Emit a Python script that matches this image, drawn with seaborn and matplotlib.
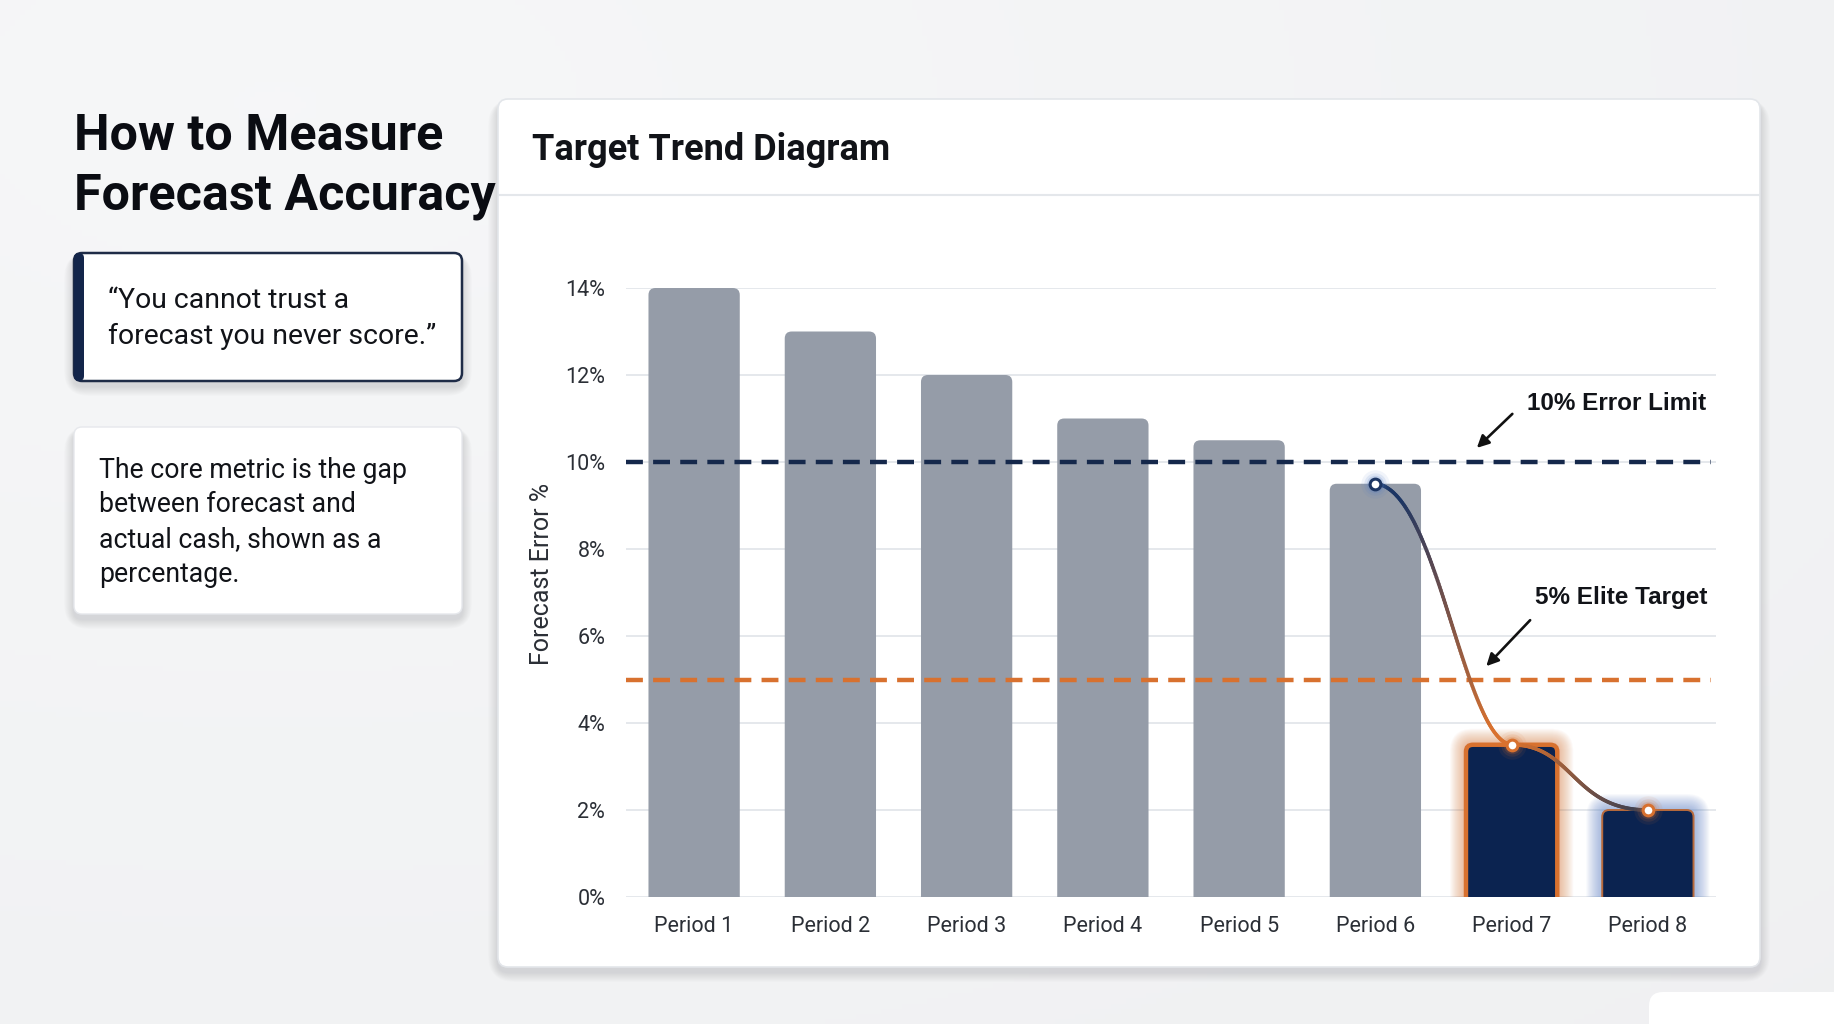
import numpy as np
import pandas as pd
import matplotlib
matplotlib.use("Agg")
import matplotlib.pyplot as plt
import seaborn as sns
from matplotlib.patches import FancyBboxPatch, Rectangle
from matplotlib.collections import LineCollection
from matplotlib.colors import to_rgb

# ---------------- data ----------------
periods = ["Period 1", "Period 2", "Period 3", "Period 4",
           "Period 5", "Period 6", "Period 7", "Period 8"]
errors = [14.0, 13.0, 12.0, 11.0, 10.5, 9.5, 3.5, 2.0]
status = ["Above", "Above", "Above", "Above", "Above", "Above", "Elite", "Elite"]
yticks = [0, 2, 4, 6, 8, 10, 12, 14]
error_limit = 10
elite_target = 5
trend_periods = ["Period 6", "Period 7", "Period 8"]

page_title = ["How to Measure", "Forecast Accuracy"]
quote_lines = ["\u201cYou cannot trust a", "forecast you never score.\u201d"]
body_lines = ["The core metric is the gap", "between forecast and",
              "actual cash, shown as a", "percentage."]
card_title = "Target Trend Diagram"
ylabel = "Forecast Error %"
limit_label = "10% Error Limit"
target_label = "5% Elite Target"

# ---------------- style ----------------
GRAY = "#959ca8"
NAVY = "#0b2350"
NAVY_LINE = "#15284b"
ORANGE = "#d8712f"
TEXT = "#111318"

sns.set_theme(style="white")
plt.rcParams["font.family"] = ["Roboto", "DejaVu Sans"]

W, H = 1834, 1024
fig = plt.figure(figsize=(W / 100, H / 100), dpi=100)
fig.patch.set_facecolor("#f3f4f6")

bg = fig.add_axes([0, 0, 1, 1], zorder=0)
bg.set_xlim(0, W)
bg.set_ylim(H, 0)
bg.axis("off")

# subtle background gradient
gy, gx = np.mgrid[0:1:200j, 0:1:360j]
grad = 0.965 - 0.02 * np.sqrt((gx - 0.15) ** 2 + (gy - 0.1) ** 2)
bg.imshow(np.dstack([grad, grad + 0.003, grad + 0.008]).clip(0, 1),
          extent=[0, W, H, 0], aspect="auto", zorder=0)


def rbox(x0, y0, x1, y1, r, fc, ec="none", lw=0, z=1, shadow=True, alpha=1.0):
    if shadow:
        for i in range(10):
            d = 2 + i * 1.6
            bg.add_patch(FancyBboxPatch((x0 - d * 0.6, y0 - d * 0.3 + 5), (x1 - x0) + d * 1.2,
                                        (y1 - y0) + d * 0.9,
                                        boxstyle=f"round,pad=0,rounding_size={r + d}",
                                        fc="#1c2333", ec="none", alpha=0.012, zorder=z - 0.5))
    bg.add_patch(FancyBboxPatch((x0, y0), x1 - x0, y1 - y0,
                                boxstyle=f"round,pad=0,rounding_size={r}",
                                fc=fc, ec=ec, lw=lw, zorder=z, alpha=alpha))


# main chart card
rbox(498, 99, 1760, 967, 10, "white", ec="#e3e6ea", lw=1.2, z=2)
bg.plot([499, 1759], [195, 195], color="#e4e7eb", lw=1.5, zorder=3)
bg.text(532, 160, card_title, fontsize=26, fontweight="bold", color=TEXT,
        va="baseline", ha="left", zorder=4)

# left title
bg.text(74, 150, page_title[0], fontsize=36.2, fontweight="bold", color="#0a0c12",
        va="baseline", ha="left", zorder=4)
bg.text(74, 209, page_title[1], fontsize=36.2, fontweight="bold", color="#0a0c12",
        va="baseline", ha="left", zorder=4)

# quote box
rbox(74, 253, 462, 381, 8, "white", ec="#1f2c47", lw=1.8, z=2)
bg.add_patch(FancyBboxPatch((74, 253), 10, 128, boxstyle="round,pad=0,rounding_size=5",
                            fc="#13254a", ec="none", zorder=3))
bg.text(108, 308, quote_lines[0], fontsize=20.4, color=TEXT, va="baseline", zorder=4)
bg.text(108, 344, quote_lines[1], fontsize=20.4, color=TEXT, va="baseline", zorder=4)

# body box
rbox(74, 427, 462, 614, 8, "white", ec="#e6e8ec", lw=1.0, z=2)
for i, line in enumerate(body_lines):
    bg.text(99, 478 + i * 34.5, line, fontsize=19.2, color=TEXT, va="baseline", zorder=4)

# bottom-right partial card
bg.add_patch(FancyBboxPatch((1649, 992), 220, 80, boxstyle="round,pad=0,rounding_size=14",
                            fc="white", ec="none", zorder=2))

# ---------------- chart ----------------
ax_l, ax_r, ax_b, ax_t = 626, 1716, 897, 288
ax = fig.add_axes([ax_l / W, (H - ax_b) / H, (ax_r - ax_l) / W, (ax_b - ax_t) / H], zorder=3)
ax.set_facecolor("none")

df = pd.DataFrame({"period": periods, "error": errors, "status": status})
sns.barplot(data=df, x="period", y="error", hue="status",
            palette={"Above": GRAY, "Elite": NAVY}, dodge=False, legend=False,
            width=0.67, saturation=1, ax=ax, zorder=3)

ax.set_xlim(-0.5, 7.5)
ax.set_ylim(0, 14)
px_x = (ax_r - ax_l) / 8.0
px_y = (ax_b - ax_t) / 14.0
asp = px_x / px_y
rx = 7 / px_x

bars = sorted([p for p in ax.patches if isinstance(p, Rectangle)], key=lambda p: p.get_x())
for i, p in enumerate(bars):
    x, w, h = p.get_x(), p.get_width(), p.get_height()
    fc = p.get_facecolor()
    p.set_visible(False)
    if i in (6, 7):
        gcol = ORANGE if i == 6 else "#5f85c9"
        galpha = 0.035 if i == 6 else 0.045
        for d in range(16, 0, -1):
            dx, dy = d / px_x, d / px_y
            ax.add_patch(FancyBboxPatch((x - dx, -1), w + 2 * dx, h + 1 + dy,
                                        boxstyle=f"round,pad=0,rounding_size={rx + dx}",
                                        mutation_aspect=asp, fc=gcol, ec="none",
                                        alpha=galpha, zorder=2.5))
    ec, lw = "none", 0
    if i == 6:
        ec, lw = ORANGE, 3.2
    elif i == 7:
        ec, lw = "#b86a3c", 1.4
    ax.add_patch(FancyBboxPatch((x, -1), w, h + 1,
                                boxstyle=f"round,pad=0,rounding_size={rx}",
                                mutation_aspect=asp, fc=fc, ec=ec, lw=lw, zorder=3))

# reference lines
ax.plot([-0.5, 7.46], [error_limit, error_limit], color=NAVY_LINE, lw=3.2,
        dashes=(3.8, 2.3), zorder=4)
ax.plot([-0.5, 7.46], [elite_target, elite_target], color=ORANGE, lw=3.2,
        dashes=(3.8, 2.3), zorder=4)

# smooth trend line over last periods
idx = [periods.index(p) for p in trend_periods]
vals = [errors[i] for i in idx]


def bez(p0, c1, c2, p1, n=120):
    t = np.linspace(0, 1, n)[:, None]
    return ((1 - t) ** 3 * np.array(p0) + 3 * (1 - t) ** 2 * t * np.array(c1)
            + 3 * (1 - t) * t ** 2 * np.array(c2) + t ** 3 * np.array(p1))


seg1 = bez((idx[0], vals[0]), (idx[0] + 0.45, vals[0] - 0.1),
           (idx[1] - 0.35, vals[1] + 0.1), (idx[1], vals[1]))
seg2 = bez((idx[1], vals[1]), (idx[1] + 0.45, vals[1]),
           (idx[2] - 0.55, vals[2]), (idx[2], vals[2]))
c_navy, c_or, c_dark = np.array(to_rgb("#1c3563")), np.array(to_rgb(ORANGE)), np.array(to_rgb("#3a3f52"))
for seg, (ca, cb) in [(seg1, (c_navy, c_or)), (seg2, (c_or, c_dark))]:
    pts = seg.reshape(-1, 1, 2)
    segs = np.concatenate([pts[:-1], pts[1:]], axis=1)
    tt = np.linspace(0, 1, len(segs))
    if ca is c_navy:
        tt = np.clip((tt - 0.15) / 0.7, 0, 1)
    cols = [tuple(ca * (1 - s) + cb * s) for s in tt]
    ax.add_collection(LineCollection(segs, colors=cols, lw=2.6, zorder=5, capstyle="round"))

edge_cols = ["#1c3563", ORANGE, ORANGE]
for k, (xi, v) in enumerate(zip(idx, vals)):
    glow = "#4f79c4" if k == 0 else ORANGE
    for s, a in [(420, 0.08), (260, 0.12), (160, 0.18)]:
        ax.scatter([xi], [v], s=s, color=glow, alpha=a, lw=0, zorder=5.5)
    ax.scatter([xi], [v], s=60, facecolor="white", edgecolor=edge_cols[k], lw=2.2, zorder=6)

# annotations
ann_font = dict(fontsize=17.5, fontweight="bold", color=TEXT, family=["Liberation Sans", "DejaVu Sans"])
ax.text(7.43, 11.35, limit_label, ha="right", va="center", zorder=7, **ann_font)
ax.annotate("", xy=(5.73, error_limit + 0.28), xytext=(6.02, error_limit + 1.15),
            arrowprops=dict(arrowstyle="-|>", color="#111", lw=1.9, mutation_scale=18), zorder=7)
ax.text(7.44, 6.88, target_label, ha="right", va="center", zorder=7, **ann_font)
ax.annotate("", xy=(5.80, elite_target + 0.26), xytext=(6.15, elite_target + 1.41),
            arrowprops=dict(arrowstyle="-|>", color="#111", lw=1.9, mutation_scale=18), zorder=7)

# axes styling
ax.set_yticks(yticks)
ax.set_yticklabels([f"{t}%" for t in yticks])
ax.yaxis.grid(True, color="#e3e6ea", lw=1.3)
ax.xaxis.grid(False)
ax.set_axisbelow(True)
for s in ax.spines.values():
    s.set_visible(False)
ax.tick_params(axis="both", length=0, labelsize=15.5, colors="#2b2f36")
ax.tick_params(axis="y", pad=15)
ax.tick_params(axis="x", pad=14)
ax.set_xlabel("")
ax.set_ylabel(ylabel, fontsize=18, color="#2b2f36")
ax.yaxis.set_label_coords(-0.066, 0.53)

fig.savefig("out.png", dpi=100, facecolor=fig.get_facecolor())
